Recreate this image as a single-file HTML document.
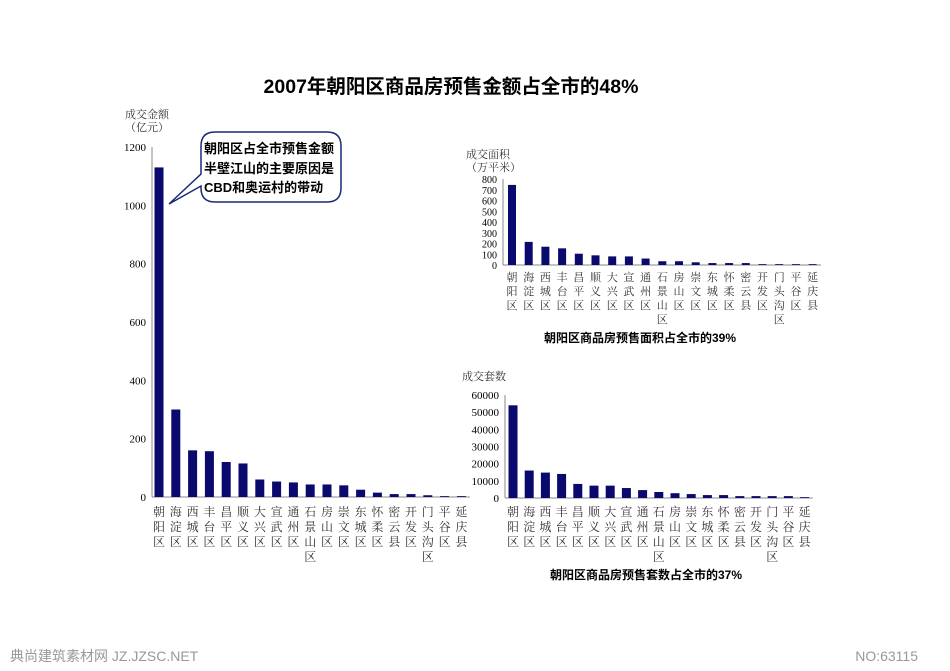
<!DOCTYPE html>
<html><head><meta charset="utf-8">
<style>
body{margin:0;background:#fff;width:950px;height:671px;overflow:hidden}
svg{display:block}
.s{font-family:"Liberation Serif","Noto Serif CJK SC",serif;}
.b{font-family:"Liberation Sans","Noto Sans CJK SC",sans-serif;}
</style></head><body>
<svg id="svg" width="950" height="671" viewBox="0 0 950 671" xmlns="http://www.w3.org/2000/svg">
<text x="451" y="93" text-anchor="middle" class="b" font-size="19.5" font-weight="bold" fill="#000">2007年朝阳区商品房预售金额占全市的48%</text>
<g id="c1"></g>
<g id="c2"></g>
<g id="c3"></g>
<g>
<path d="M215,132 L327,132 Q341,132 341,146 L341,188 Q341,202 327,202 L215,202 Q201,202 201,188 L201,186 L169,204 L201,174 L201,146 Q201,132 215,132 Z" fill="#fff" stroke="#1a2a7a" stroke-width="1.5"/>
<text class="b" font-size="13" font-weight="bold" fill="#000"><tspan x="204" y="153">朝阳区占全市预售金额</tspan><tspan x="204" y="173">半壁江山的主要原因是</tspan><tspan x="204" y="192">CBD和奥运村的带动</tspan></text>
</g>
<text x="640" y="342" text-anchor="middle" class="b" font-size="12" font-weight="bold">朝阳区商品房预售面积占全市的39%</text>
<text x="646" y="579" text-anchor="middle" class="b" font-size="12" font-weight="bold">朝阳区商品房预售套数占全市的37%</text>
<text x="10" y="661" class="b" font-size="14" fill="#999">典尚建筑素材网 JZ.JZSC.NET</text>
<text x="918" y="661" text-anchor="end" class="b" font-size="14" fill="#999">NO:63115</text>
</svg>
<script>
const districts=["朝阳区","海淀区","西城区","丰台区","昌平区","顺义区","大兴区","宣武区","通州区","石景山区","房山区","崇文区","东城区","怀柔区","密云县","开发区","门头沟区","平谷区","延庆县"];
const amountValues=[1130,300,160,157,120,115,60,53,50,43,43,40,25,15,10,10,6,3,3];
const amountTicks=[0,200,400,600,800,1000,1200];
const areaValues=[745,215,170,155,105,90,80,80,60,35,35,25,18,18,18,8,8,8,8];
const areaTicks=[0,100,200,300,400,500,600,700,800];
const unitValues=[54000,16000,14800,14000,8200,7200,7200,5800,4600,3500,2800,2300,1700,1700,1100,1100,1100,1100,500];
const unitTicks=[0,10000,20000,30000,40000,50000,60000];
const NS="http://www.w3.org/2000/svg";
function mk(tag,attrs,parent){const e=document.createElementNS(NS,tag);for(const k in attrs)e.setAttribute(k,attrs[k]);parent.appendChild(e);return e;}
function draw(g,cfg,vals,ticks){
  const y=v=>cfg.y0-(v/cfg.max)*(cfg.y0-cfg.yTop);
  const x=i=>cfg.x0+i*cfg.step;
  const ax=mk('line',{x1:cfg.ax,x2:cfg.ax,y1:cfg.yTop,y2:cfg.y0,stroke:'#888'},g);
  
  
  const bx=mk('line',{x1:cfg.ax,x2:x(vals.length-1)+cfg.step/2,y1:cfg.y0,y2:cfg.y0,stroke:'#888'},g);
  
  
  ticks.forEach(t=>{
    const tl=mk('text',{x:cfg.ax-6,y:y(t)+4,'text-anchor':'end','font-size':cfg.fs,class:'s'},g);
    tl.textContent=t;
    
    
  });
  vals.forEach((v,i)=>{
    const r=mk('rect',{x:x(i)-cfg.bw/2,y:y(v),width:cfg.bw,height:cfg.y0-y(v),fill:'#0a0a6e'},g);
    
    
    const lbl=mk('text',{'font-size':cfg.lfs,class:'s',fill:'#333','text-anchor':'middle'},g);
    
    
    [...districts[i]].forEach((ch,k)=>{const ts=mk('tspan',{x:x(i),y:cfg.ly+k*cfg.lh},lbl);ts.textContent=ch;});
  });
  cfg.title.forEach((t,k)=>{
    const tt=mk('text',{x:cfg.tx,y:cfg.ty+k*13,'font-size':11,class:'s',fill:'#333'},g);
    tt.textContent=t;
    
    
  });
}
draw(document.getElementById('c1'),{ax:152,y0:497,yTop:147,max:1200,x0:159,step:16.8,bw:9,fs:11,lfs:12,ly:516,lh:15,title:["成交金额","（亿元）"],tx:125,ty:118},amountValues,amountTicks);
draw(document.getElementById('c2'),{ax:503,y0:265,yTop:179,max:800,x0:512,step:16.7,bw:8,fs:10,lfs:11,ly:281,lh:14,title:["成交面积","（万平米）"],tx:466,ty:158},areaValues,areaTicks);
draw(document.getElementById('c3'),{ax:505,y0:498,yTop:395,max:60000,x0:513,step:16.2,bw:9,fs:11,lfs:12,ly:516,lh:15,title:["成交套数"],tx:462,ty:380},unitValues,unitTicks);
</script>
</body></html>
